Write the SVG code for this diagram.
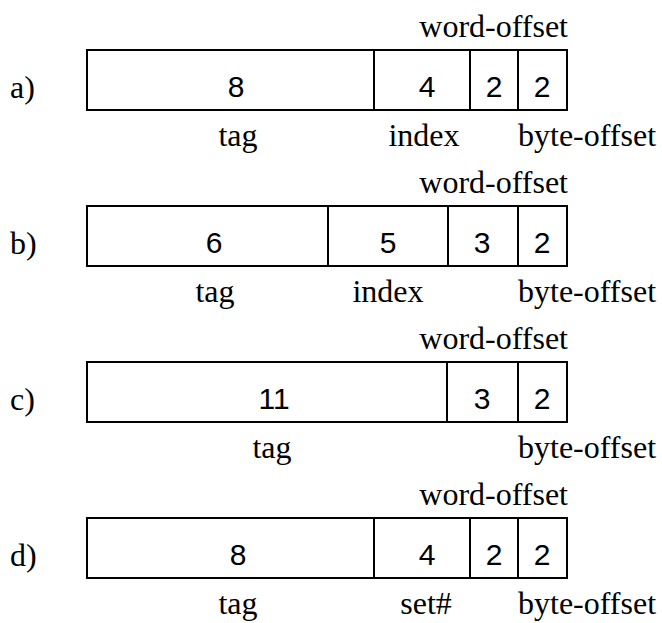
<svg xmlns="http://www.w3.org/2000/svg" width="662" height="623" viewBox="0 0 662 623">
  <style>
    .field { fill: #fff; stroke: #000; stroke-width: 2; }
    .div { stroke: #000; stroke-width: 2; }
    .num { font-family: "Liberation Sans", Arial, sans-serif; font-size: 30px; text-anchor: middle; fill: #000; }
    .lbl { font-family: "Liberation Serif", "Times New Roman", serif; font-size: 32px; fill: #000; }
    .mid { text-anchor: middle; }
    .end { text-anchor: end; }
  </style>

  <!-- a) 8 | 4 | 2 | 2 -->
  <g id="row-a">
    <text class="lbl" x="10" y="98">a)</text>
    <text class="lbl end" x="568" y="37">word-offset</text>
    <rect class="field" x="87" y="50" width="480" height="60"/>
    <line class="div" x1="374" y1="50" x2="374" y2="110"/>
    <line class="div" x1="470" y1="50" x2="470" y2="110"/>
    <line class="div" x1="518" y1="50" x2="518" y2="110"/>
    <text class="num" x="236" y="97">8</text>
    <text class="num" x="427" y="97">4</text>
    <text class="num" x="494" y="97">2</text>
    <text class="num" x="542" y="97">2</text>
    <text class="lbl mid" x="238" y="146">tag</text>
    <text class="lbl mid" x="424" y="146">index</text>
    <text class="lbl" x="518" y="146">byte-offset</text>
  </g>

  <!-- b) 6 | 5 | 3 | 2 -->
  <g id="row-b">
    <text class="lbl" x="10" y="254">b)</text>
    <text class="lbl end" x="568" y="193">word-offset</text>
    <rect class="field" x="87" y="206" width="480" height="60"/>
    <line class="div" x1="328" y1="206" x2="328" y2="266"/>
    <line class="div" x1="448" y1="206" x2="448" y2="266"/>
    <line class="div" x1="518" y1="206" x2="518" y2="266"/>
    <text class="num" x="214" y="253">6</text>
    <text class="num" x="388" y="253">5</text>
    <text class="num" x="482" y="253">3</text>
    <text class="num" x="542" y="253">2</text>
    <text class="lbl mid" x="215" y="302">tag</text>
    <text class="lbl mid" x="388" y="302">index</text>
    <text class="lbl" x="518" y="302">byte-offset</text>
  </g>

  <!-- c) 11 | 3 | 2 -->
  <g id="row-c">
    <text class="lbl" x="10" y="410">c)</text>
    <text class="lbl end" x="568" y="349">word-offset</text>
    <rect class="field" x="87" y="362" width="480" height="60"/>
    <line class="div" x1="447" y1="362" x2="447" y2="422"/>
    <line class="div" x1="518" y1="362" x2="518" y2="422"/>
    <text class="num" x="274" y="409">11</text>
    <text class="num" x="482" y="409">3</text>
    <text class="num" x="542" y="409">2</text>
    <text class="lbl mid" x="272" y="458">tag</text>
    <text class="lbl" x="518" y="458">byte-offset</text>
  </g>

  <!-- d) 8 | 4 | 2 | 2 -->
  <g id="row-d">
    <text class="lbl" x="10" y="566">d)</text>
    <text class="lbl end" x="568" y="505">word-offset</text>
    <rect class="field" x="87" y="518" width="480" height="60"/>
    <line class="div" x1="374" y1="518" x2="374" y2="578"/>
    <line class="div" x1="470" y1="518" x2="470" y2="578"/>
    <line class="div" x1="518" y1="518" x2="518" y2="578"/>
    <text class="num" x="238" y="565">8</text>
    <text class="num" x="427" y="565">4</text>
    <text class="num" x="494" y="565">2</text>
    <text class="num" x="542" y="565">2</text>
    <text class="lbl mid" x="238" y="614">tag</text>
    <text class="lbl mid" x="426" y="614">set#</text>
    <text class="lbl" x="518" y="614">byte-offset</text>
  </g>
</svg>
